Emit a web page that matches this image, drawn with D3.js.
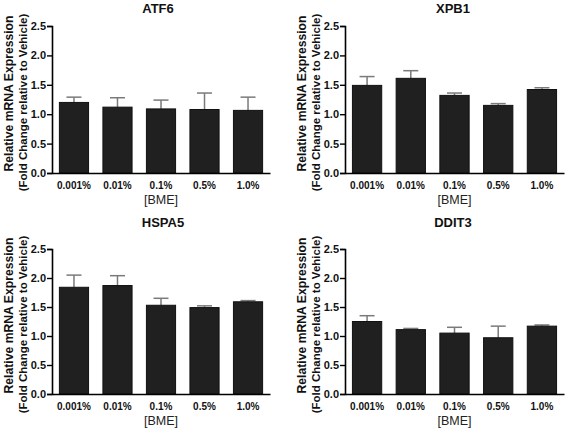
<!DOCTYPE html>
<html>
<head>
<meta charset="utf-8">
<script src="https://cdn.jsdelivr.net/npm/d3@7"></script>
<style>
  html, body { margin: 0; padding: 0; background: #fff; }
  svg { display: block; font-family: "Liberation Sans", Arial, sans-serif; }
</style>
</head>
<body>
<svg id="chart" width="567" height="428"></svg>
<script>
// ---- data ----
const categories = ["0.001%", "0.01%", "0.1%", "0.5%", "1.0%"];
const yTicks = [0, 0.5, 1.0, 1.5, 2.0, 2.5];
const atf6Mean  = [1.20, 1.12, 1.09, 1.08, 1.065];
const atf6Err   = [0.09, 0.16, 0.15, 0.28, 0.225];
const xpb1Mean  = [1.49, 1.61, 1.32, 1.15, 1.42];
const xpb1Err   = [0.15, 0.13, 0.04, 0.03, 0.03];
const hspa5Mean = [1.84, 1.87, 1.53, 1.49, 1.59];
const hspa5Err  = [0.21, 0.17, 0.12, 0.03, 0.02];
const ddit3Mean = [1.25, 1.11, 1.05, 0.97, 1.17];
const ddit3Err  = [0.10, 0.02, 0.10, 0.20, 0.02];
const titles = ["ATF6", "XPB1", "HSPA5", "DDIT3"];
const yLabel1 = "Relative mRNA Expression";
const yLabel2 = "(Fold Change relative to Vehicle)";
const xLabel = "[BME]";

// ---- layout ----
const panels = [
  { title: titles[0], mean: atf6Mean,  err: atf6Err,  x0: 52,  x1: 270, y0: 26,  y1: 173, tx: 158, ty: 12.5 },
  { title: titles[1], mean: xpb1Mean,  err: xpb1Err,  x0: 345, x1: 564, y0: 26,  y1: 173, tx: 453, ty: 12.5 },
  { title: titles[2], mean: hspa5Mean, err: hspa5Err, x0: 52,  x1: 270, y0: 249, y1: 394, tx: 163, ty: 227 },
  { title: titles[3], mean: ddit3Mean, err: ddit3Err, x0: 345, x1: 564, y0: 249, y1: 394, tx: 453, ty: 227 }
];

const svg = d3.select("#chart");
const FF = "Liberation Sans, Arial, sans-serif";

panels.forEach(p => {
  const g = svg.append("g");
  const x = d3.scaleBand().domain(categories).range([p.x0, p.x1]).paddingInner(0.33).paddingOuter(0.17);
  const y = d3.scaleLinear().domain([0, 2.5]).range([p.y1, p.y0]);

  const rows = categories.map((c, i) => ({ c, m: p.mean[i], e: p.err[i] }));

  // error bars (upper only)
  const eg = g.append("g").attr("stroke", "#7a7a7a").attr("stroke-width", 1.5).attr("fill", "none");
  eg.selectAll("line.v").data(rows).join("line")
    .attr("x1", d => x(d.c) + x.bandwidth() / 2).attr("x2", d => x(d.c) + x.bandwidth() / 2)
    .attr("y1", d => y(d.m)).attr("y2", d => y(d.m + d.e));
  eg.selectAll("line.cap").data(rows).join("line")
    .attr("x1", d => x(d.c) + x.bandwidth() / 2 - 7.5).attr("x2", d => x(d.c) + x.bandwidth() / 2 + 7.5)
    .attr("y1", d => y(d.m + d.e)).attr("y2", d => y(d.m + d.e));

  // bars
  g.append("g").selectAll("rect").data(rows).join("rect")
    .attr("x", d => x(d.c)).attr("width", x.bandwidth())
    .attr("y", d => y(d.m)).attr("height", d => y(0) - y(d.m))
    .attr("fill", "#202020").attr("stroke", "#111").attr("stroke-width", 1);

  // y axis
  const ya = g.append("g").attr("transform", `translate(${p.x0},0)`)
    .call(d3.axisLeft(y).tickValues(yTicks).tickFormat(d3.format(".1f")).tickSize(5).tickPadding(1));
  ya.select(".domain").attr("stroke", "#000").attr("stroke-width", 1.6);
  ya.selectAll(".tick line").attr("stroke", "#000").attr("stroke-width", 1.4);
  ya.selectAll(".tick text").attr("font-size", 11).attr("font-weight", "bold").attr("fill", "#111")
    .attr("font-family", FF);

  // x axis
  const xa = g.append("g").attr("transform", `translate(0,${p.y1})`)
    .call(d3.axisBottom(x).tickSize(0).tickPadding(9));
  xa.select(".domain").attr("stroke", "#000").attr("stroke-width", 1.6);
  xa.selectAll(".tick text").attr("font-size", 10).attr("font-weight", "bold").attr("fill", "#111")
    .attr("font-family", FF);

  // title
  g.append("text").attr("x", p.tx).attr("y", p.ty)
    .attr("text-anchor", "middle").attr("font-size", 13)
    .attr("font-weight", "bold").attr("fill", "#111").text(p.title);

  // x label
  g.append("text").attr("x", (p.x0 + p.x1) / 2).attr("y", p.y1 + 30.5)
    .attr("text-anchor", "middle").attr("font-size", 12.5).attr("fill", "#222").text(xLabel);

  // y labels
  const cy = (p.y0 + p.y1) / 2;
  g.append("text").attr("transform", `translate(${p.x0 - 39},${cy - 6}) rotate(-90)`)
    .attr("text-anchor", "middle").attr("font-size", 12.2).attr("font-weight", "bold").attr("fill", "#111").text(yLabel1);
  g.append("text").attr("transform", `translate(${p.x0 - 25.5},${cy + 3}) rotate(-90)`)
    .attr("text-anchor", "middle").attr("font-size", 11.5).attr("font-weight", "bold").attr("fill", "#111").text(yLabel2);
});
</script>
</body>
</html>
